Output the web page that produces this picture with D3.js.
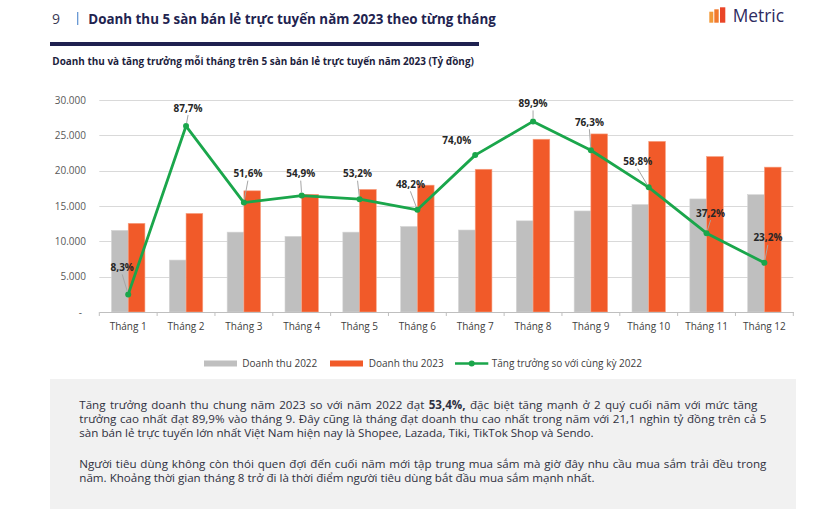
<!DOCTYPE html>
<html><head><meta charset="utf-8">
<script src="https://cdn.jsdelivr.net/npm/d3@7"></script>
<style>body{margin:0;background:#fff}svg{display:block;font-family:"Open Sans",sans-serif}</style>
</head><body><svg id="c" width="824" height="516"></svg>
<script>
const months = ["Tháng 1","Tháng 2","Tháng 3","Tháng 4","Tháng 5","Tháng 6","Tháng 7","Tháng 8","Tháng 9","Tháng 10","Tháng 11","Tháng 12"];
const revenue2022 = [11550, 7350, 11300, 10700, 11300, 12100, 11600, 12900, 14300, 15200, 16000, 16600];
const revenue2023 = [12550, 13950, 17150, 16650, 17350, 17950, 20200, 24450, 25200, 24150, 22000, 20500];
const growth = [8.3, 87.7, 51.6, 54.9, 53.2, 48.2, 74.0, 89.9, 76.3, 58.8, 37.2, 23.2];
const yTicks = [0, 5000, 10000, 15000, 20000, 25000, 30000];
const seriesNames = ["Doanh thu 2022", "Doanh thu 2023", "Tăng trưởng so với cùng kỳ 2022"];
const pageNumber = "9";
const titleText = "Doanh thu 5 sàn bán lẻ trực tuyến năm 2023 theo từng tháng";
const subtitleText = "Doanh thu và tăng trưởng mỗi tháng trên 5 sàn bán lẻ trực tuyến năm 2023 (Tỷ đồng)";
const brandText = "Metric";
const para1 = [
  [["Tăng trưởng doanh thu chung năm 2023 so với năm 2022 đạt ", false], ["53,4%,", true], [" đặc biệt tăng mạnh ở 2 quý cuối năm với mức tăng", false]],
  [["trưởng cao nhất đạt 89,9% vào tháng 9. Đây cũng là tháng đạt doanh thu cao nhất trong năm với 21,1 nghìn tỷ đồng trên cả 5", false]],
  [["sàn bán lẻ trực tuyến lớn nhất Việt Nam hiện nay là Shopee, Lazada, Tiki, TikTok Shop và Sendo.", false]]
];
const para2 = [
  [["Người tiêu dùng không còn thói quen đợi đến cuối năm mới tập trung mua sắm mà giờ đây nhu cầu mua sắm trải đều trong", false]],
  [["năm. Khoảng thời gian tháng 8 trở đi là thời điểm người tiêu dùng bắt đầu mua sắm mạnh nhất.", false]]
];
// label placement (px offsets from point), styling only
const labelOffsets = [[-6,-27],[2,-18],[4,-29],[-1,-22],[-2,-25.5],[-7,-25.5],[-18.5,-15],[0,-18],[-1.5,-28],[-11,-25.6],[4,-20],[3.5,-25]];
const showLeader = [1,1,1,1,1,1,0,1,1,1,1,1];

const C_GRAY = "#bfbfbf", C_ORANGE = "#f15a29", C_GREEN = "#1aa64b", NAVY = "#22234f";
const svg = d3.select("#c");
const loc = d3.formatLocale({decimal: ",", thousands: ".", grouping: [3], currency: ["", ""]});
const fmtY = loc.format(",.0f");
const fmtP = loc.format(".1f");

function fitWidth(sel, target) {
  const w = sel.node().getComputedTextLength();
  const fs = parseFloat(sel.attr("font-size"));
  sel.attr("font-size", fs * target / w);
  return fs * target / w;
}

// Header
svg.append("text").attr("x", 52).attr("y", 24).attr("font-size", 14).attr("fill", "#3a3a55").text(pageNumber);
svg.append("line").attr("x1", 77.7).attr("x2", 77.7).attr("y1", 12).attr("y2", 25).attr("stroke", "#5b8fd0").attr("stroke-width", 1.2);
const title = svg.append("text").attr("x", 88.3).attr("y", 24).attr("font-size", 14).attr("font-weight", 700).attr("fill", NAVY).text(titleText);
fitWidth(title, 408);
svg.append("rect").attr("x", 50).attr("y", 42).attr("width", 429).attr("height", 4).attr("fill", "#1f2150");
const sub = svg.append("text").attr("x", 52.3).attr("y", 65).attr("font-size", 9.5).attr("font-weight", 700).attr("fill", "#1d1e3e").text(subtitleText);
fitWidth(sub, 422);

// Logo
const logoBars = [[709.3, 11.7, 4, "#f29a3a"], [714.3, 9.3, 4.4, "#f17a2e"], [720, 7.3, 5.3, "#ea4527"]];
svg.selectAll(".lb").data(logoBars).join("rect").attr("x", d => d[0]).attr("y", d => d[1]).attr("width", d => d[2]).attr("height", d => 22.7 - d[1]).attr("fill", d => d[3]);
const brand = svg.append("text").attr("x", 732.7).attr("y", 21.5).attr("font-size", 17).attr("fill", "#2e2b5f").text(brandText);
fitWidth(brand, 51.3);

// Chart
const x = d3.scaleBand().domain(months).range([99.3, 793.3]).paddingInner(0).paddingOuter(0);
const xi = d3.scaleBand().domain([0, 1]).range([0, x.bandwidth()]).paddingInner(0).paddingOuter(0.73);
const y = d3.scaleLinear().domain([0, 30000]).range([312, 100]);
const y2 = d3.scaleLinear().domain([0, 100]).range([312, 100]);

const g = svg.append("g");
g.selectAll(".grid").data(yTicks.slice(1)).join("line")
  .attr("x1", 99.3).attr("x2", 793.3).attr("y1", d => Math.round(y(d)) + 0.5).attr("y2", d => Math.round(y(d)) + 0.5)
  .attr("stroke", "#d9d9d9").attr("stroke-width", 1.2);

g.selectAll(".yl").data(yTicks).join("text")
  .attr("x", d => d === 0 ? 82 : 86).attr("y", d => y(d) + 3.5).attr("text-anchor", "end")
  .attr("font-size", 10).attr("fill", "#595959").text(d => d === 0 ? "-" : fmtY(d));

const series = [revenue2022, revenue2023];
const colors = [C_GRAY, C_ORANGE];
series.forEach((vals, si) => {
  g.selectAll(".b" + si).data(vals).join("rect")
    .attr("x", (d, i) => x(months[i]) + xi(si)).attr("width", xi.bandwidth())
    .attr("y", d => y(d)).attr("height", d => y(0) - y(d))
    .attr("fill", colors[si]).attr("stroke", si ? "#f7a385" : "#d4d4d4").attr("stroke-width", 0.6);
});

// axis
const xAxis = d3.axisBottom(x).tickSize(0).tickFormat("");
const ax = g.append("g").attr("transform", "translate(0,312)").call(xAxis);
ax.select(".domain").attr("stroke", "#bfbfbf").attr("stroke-width", 1.2);
const bounds = months.map(m => x(m)).concat([x.range()[1]]);
g.selectAll(".tk").data(bounds).join("line").attr("x1", d => d).attr("x2", d => d).attr("y1", 312).attr("y2", 316).attr("stroke", "#bfbfbf");
g.selectAll(".xl").data(months).join("text")
  .attr("x", d => x(d) + x.bandwidth() / 2).attr("y", 329.5).attr("text-anchor", "middle")
  .attr("font-size", 10).attr("fill", "#404040").text(d => d);

// growth line
const cx = i => x(months[i]) + x.bandwidth() / 2;
const line = d3.line().x((d, i) => cx(i)).y(d => y2(d));
g.append("path").datum(growth).attr("d", line).attr("fill", "none").attr("stroke", C_GREEN).attr("stroke-width", 2.8).attr("stroke-linejoin", "round");
g.selectAll(".pt").data(growth).join("circle").attr("cx", (d, i) => cx(i)).attr("cy", d => y2(d)).attr("r", 3).attr("fill", C_GREEN);

// leaders + labels
growth.forEach((d, i) => {
  const px = cx(i), py = y2(d);
  const lx = px + labelOffsets[i][0], ly = py + labelOffsets[i][1];
  if (showLeader[i]) {
    const sx = lx, sy = ly + 7;
    const dx = px - sx, dy = py - sy, L = Math.hypot(dx, dy);
    if (L > 4) g.append("line").attr("x1", sx).attr("y1", sy).attr("x2", px - dx / L * 3).attr("y2", py - dy / L * 3).attr("stroke", "#a6a6a6").attr("stroke-width", 1);
  }
  g.append("text").attr("x", lx).attr("y", ly + 3.6).attr("text-anchor", "middle").attr("font-size", 10).attr("font-weight", 700).attr("fill", "#262626").text(fmtP(d) + "%");
});

// legend
const lg = svg.append("g").attr("font-size", 10).attr("fill", "#404040");
lg.append("rect").attr("x", 204).attr("y", 360.5).attr("width", 33).attr("height", 6).attr("fill", C_GRAY);
lg.append("text").attr("x", 242.3).attr("y", 367).text(seriesNames[0]);
lg.append("rect").attr("x", 330).attr("y", 360.5).attr("width", 33).attr("height", 6).attr("fill", C_ORANGE);
lg.append("text").attr("x", 368.7).attr("y", 367).text(seriesNames[1]);
lg.append("line").attr("x1", 455).attr("x2", 488.3).attr("y1", 363.5).attr("y2", 363.5).attr("stroke", C_GREEN).attr("stroke-width", 2.6);
lg.append("circle").attr("cx", 471.7).attr("cy", 363.5).attr("r", 3).attr("fill", C_GREEN);
lg.append("text").attr("x", 491.7).attr("y", 367).text(seriesNames[2]);

// text box
svg.append("rect").attr("x", 50).attr("y", 379).attr("width", 746).attr("height", 130).attr("fill", "#f1f1f1");
const tcol = "#2f3040";
function addLine(parts, yy) {
  const t = svg.append("text").attr("x", 79.3).attr("y", yy).attr("font-size", 10).attr("fill", tcol).attr("xml:space", "preserve");
  parts.forEach(p => t.append("tspan").attr("font-weight", p[1] ? 700 : 400).text(p[0]));
  return t;
}
const lines = [
  [para1[0], 409.3, 678], [para1[1], 423, 687], [para1[2], 436.7, 0],
  [para2[0], 468, 687], [para2[1], 482, 0]
];
const nodes = lines.map(l => addLine(l[0], l[1]));
const fs = fitWidth(nodes[2], 515);
nodes.forEach(n => n.attr("font-size", fs));
nodes.forEach((n, i) => {
  const target = lines[i][2];
  if (!target) return;
  const w = n.node().getComputedTextLength();
  const spaces = lines[i][0].map(p => p[0]).join("").split(" ").length - 1;
  n.style("word-spacing", ((target - w) / spaces) + "px");
});
</script></body></html>
